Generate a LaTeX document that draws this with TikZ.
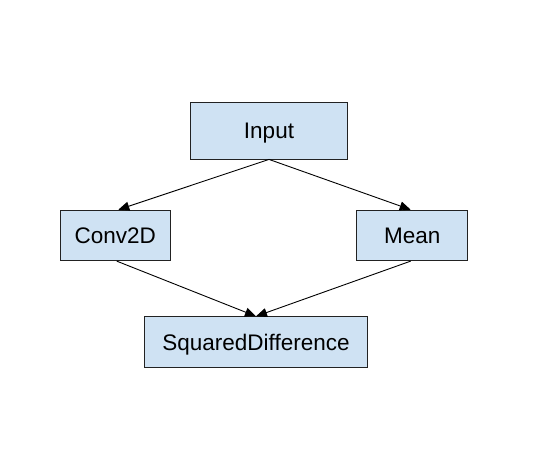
\documentclass[tikz,border=0pt]{standalone}
\usepackage{fontspec}
\setmainfont{Liberation Sans}
\usetikzlibrary{arrows.meta}
\definecolor{boxfill}{HTML}{CFE2F3}
\definecolor{boxline}{HTML}{222222}
\begin{document}
\begin{tikzpicture}[x=1pt,y=-1pt,
  blk/.style={draw=boxline,fill=boxfill,line width=0.9pt,inner sep=0pt,
    font=\fontsize{22.5}{26}\selectfont,text=black,text height=16pt,text depth=0pt},
  conn/.style={draw=black,line width=0.9pt,-{Triangle[length=11pt,width=9pt]}}]
\useasboundingbox (0,0) rectangle (534,453);
\node[blk,minimum width=156.5pt,minimum height=56.5pt] (in) at (269,130.7) {Input};
\node[blk,minimum width=110.5pt,minimum height=50.5pt] (cv) at (115.3,235.4) {Conv2D};
\node[blk,minimum width=111pt,minimum height=50.5pt] (mn) at (412.2,235.4) {Mean};
\node[blk,minimum width=223.5pt,minimum height=50.5pt] (sd) at (256,342) {SquaredDifference};
\draw[conn] (in.south) -- ([xshift=3pt]cv.north);
\draw[conn] (in.south) -- ([xshift=-1.5pt]mn.north);
\draw[conn] ([xshift=1.4pt]cv.south) -- (sd.north);
\draw[conn] ([xshift=-1.5pt]mn.south) -- (sd.north);
\end{tikzpicture}
\end{document}
